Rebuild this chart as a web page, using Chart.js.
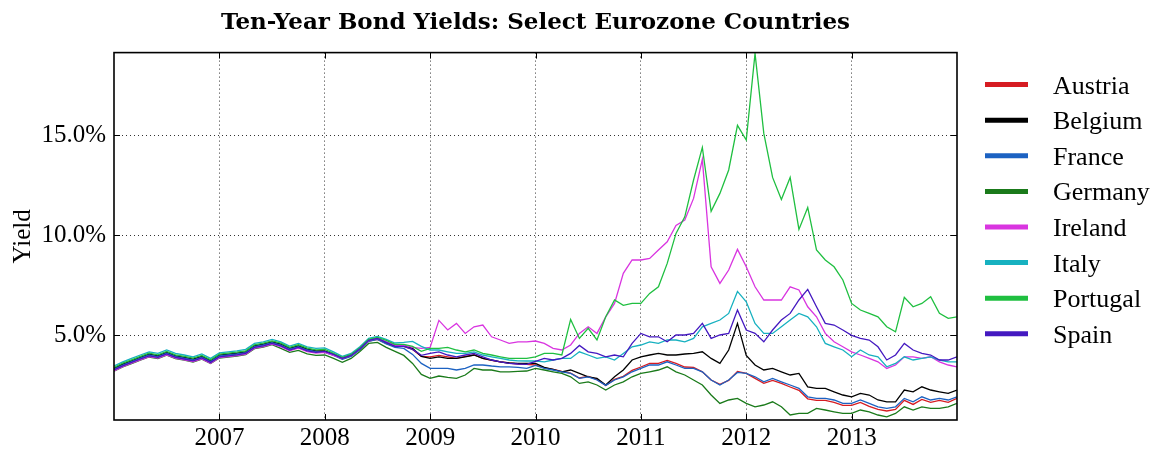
<!DOCTYPE html>
<html>
<head>
<meta charset="utf-8">
<script src="https://cdn.jsdelivr.net/npm/chart.js@4.4.1/dist/chart.umd.min.js"></script>
<style>
  html, body { margin: 0; padding: 0; background: #fff; }
</style>
</head>
<body>
<canvas id="yields" width="1155" height="449"></canvas>
<script>
// Monthly readings, Jan 2006 .. Jan 2014 (one row per year)
const countries = ['Austria', 'Belgium', 'France', 'Germany', 'Ireland', 'Italy', 'Portugal', 'Spain'];
const colors = ['#d61c22', '#000000', '#1c62c2', '#1a7a1a', '#d935e0', '#17b1c0', '#1fbf40', '#4419c0'];

const austria = [
  3.33,3.54,3.71,3.88,4.04,3.96,4.13,3.96,3.88,3.79,3.93,3.71,
  3.99,4.04,4.09,4.16,4.46,4.54,4.66,4.54,4.33,4.46,4.29,4.21,
  4.20,4.03,3.83,3.98,4.30,4.72,4.80,4.60,4.45,4.45,4.30,3.95,
  3.93,4.00,3.93,3.85,3.95,4.02,3.85,3.75,3.68,3.62,3.57,3.55,
  3.52,3.38,3.30,3.20,3.12,2.87,2.95,2.80,2.50,2.80,2.95,3.25,
  3.42,3.60,3.60,3.75,3.60,3.42,3.40,3.18,2.77,2.55,2.75,3.20,
  3.10,2.85,2.60,2.75,2.60,2.42,2.25,1.83,1.75,1.75,1.65,1.50,
  1.50,1.65,1.45,1.30,1.22,1.30,1.75,1.55,1.80,1.65,1.75,1.65,
  1.85];
const belgium = [
  3.35,3.56,3.73,3.90,4.06,3.98,4.15,3.98,3.90,3.81,3.95,3.73,
  4.01,4.06,4.11,4.18,4.48,4.56,4.68,4.56,4.35,4.48,4.31,4.23,
  4.22,4.05,3.85,4.00,4.33,4.75,4.85,4.65,4.50,4.50,4.35,3.95,
  3.85,3.93,3.85,3.85,3.93,4.02,3.85,3.77,3.68,3.62,3.60,3.60,
  3.60,3.40,3.30,3.18,3.27,3.10,2.93,2.85,2.52,2.93,3.27,3.77,
  3.93,4.02,4.10,4.02,4.02,4.07,4.10,4.18,3.85,3.60,4.27,5.60,
  4.00,3.52,3.27,3.35,3.18,3.02,3.10,2.43,2.35,2.35,2.18,2.02,
  1.93,2.10,2.02,1.77,1.68,1.68,2.27,2.18,2.43,2.27,2.18,2.10,
  2.27];
const france = [
  3.31,3.52,3.69,3.86,4.02,3.94,4.11,3.94,3.86,3.77,3.91,3.69,
  3.97,4.02,4.07,4.14,4.44,4.52,4.64,4.52,4.31,4.44,4.27,4.19,
  4.15,4.00,3.80,3.95,4.28,4.70,4.80,4.58,4.40,4.35,4.05,3.60,
  3.35,3.35,3.35,3.27,3.35,3.52,3.52,3.47,3.43,3.43,3.40,3.35,
  3.50,3.35,3.27,3.18,3.10,2.85,2.93,2.77,2.50,2.77,2.93,3.18,
  3.35,3.52,3.52,3.68,3.52,3.35,3.35,3.18,2.77,2.52,2.77,3.15,
  3.10,2.93,2.68,2.85,2.68,2.52,2.35,1.93,1.85,1.85,1.77,1.60,
  1.60,1.77,1.60,1.43,1.35,1.43,1.85,1.68,1.93,1.77,1.85,1.77,
  1.93];
const germany = [
  3.21,3.42,3.59,3.76,3.92,3.84,4.01,3.84,3.76,3.67,3.81,3.59,
  3.87,3.92,3.97,4.04,4.34,4.42,4.54,4.35,4.15,4.25,4.08,4.00,
  4.02,3.85,3.65,3.85,4.20,4.60,4.65,4.40,4.20,4.00,3.60,3.05,
  2.85,2.97,2.90,2.85,3.02,3.35,3.27,3.27,3.18,3.18,3.20,3.22,
  3.35,3.27,3.18,3.10,2.93,2.60,2.68,2.52,2.27,2.52,2.68,2.93,
  3.10,3.18,3.27,3.43,3.18,3.02,2.77,2.52,2.02,1.60,1.77,1.85,
  1.60,1.43,1.52,1.68,1.43,1.02,1.10,1.10,1.35,1.27,1.18,1.10,
  1.10,1.27,1.18,1.02,0.93,1.10,1.43,1.27,1.43,1.35,1.35,1.43,
  1.60];
const ireland = [
  3.23,3.44,3.61,3.78,3.94,3.86,4.03,3.86,3.78,3.69,3.83,3.61,
  3.89,3.94,3.99,4.06,4.36,4.44,4.56,4.44,4.23,4.36,4.19,4.11,
  4.15,4.00,3.85,4.00,4.35,4.75,4.85,4.68,4.50,4.50,4.40,4.35,
  4.40,5.75,5.27,5.60,5.10,5.43,5.52,4.93,4.77,4.60,4.68,4.68,
  4.72,4.60,4.35,4.27,4.52,5.10,5.43,5.10,5.93,6.60,8.10,8.77,
  8.77,8.85,9.27,9.68,10.50,10.77,11.85,13.80,8.43,7.60,8.27,9.30,
  8.43,7.43,6.77,6.77,6.77,7.43,7.27,6.43,5.93,5.10,4.68,4.43,
  4.18,4.02,3.85,3.68,3.35,3.52,3.93,3.93,3.85,3.93,3.68,3.52,
  3.43];
const italy = [
  3.47,3.68,3.85,4.02,4.18,4.10,4.27,4.10,4.02,3.93,4.07,3.85,
  4.13,4.18,4.23,4.30,4.60,4.68,4.80,4.68,4.47,4.60,4.43,4.35,
  4.38,4.18,3.95,4.10,4.43,4.85,4.95,4.80,4.62,4.65,4.70,4.45,
  4.27,4.27,4.18,4.10,4.10,4.18,4.02,3.93,3.85,3.77,3.73,3.72,
  3.72,3.68,3.77,3.85,3.85,4.18,4.02,3.85,3.93,3.77,4.10,4.43,
  4.52,4.68,4.60,4.77,4.77,4.68,4.85,5.43,5.60,5.77,6.10,7.20,
  6.68,5.60,5.10,5.10,5.43,5.77,6.10,5.93,5.43,4.60,4.43,4.27,
  3.93,4.27,4.02,3.93,3.43,3.60,3.93,3.77,3.85,3.93,3.77,3.68,
  3.68];
const portugal = [
  3.40,3.61,3.78,3.95,4.11,4.03,4.20,4.03,3.95,3.86,4.00,3.78,
  4.06,4.11,4.16,4.23,4.53,4.61,4.73,4.61,4.40,4.53,4.36,4.28,
  4.30,4.10,3.90,4.05,4.38,4.80,4.90,4.75,4.55,4.55,4.45,4.20,
  4.35,4.35,4.40,4.27,4.18,4.27,4.10,4.02,3.93,3.85,3.85,3.85,
  3.93,4.10,4.10,4.02,5.80,4.85,5.35,4.77,5.93,6.77,6.50,6.60,
  6.60,7.10,7.43,8.60,10.10,10.93,12.77,14.40,11.20,12.10,13.27,15.50,
  14.77,19.10,15.10,12.90,11.80,12.90,10.30,11.40,9.27,8.77,8.43,7.77,
  6.60,6.27,6.10,5.93,5.43,5.18,6.90,6.43,6.60,6.93,6.10,5.85,
  5.93];
const spain = [
  3.27,3.48,3.65,3.82,3.98,3.90,4.07,3.90,3.82,3.73,3.87,3.65,
  3.93,3.98,4.03,4.10,4.40,4.48,4.60,4.48,4.27,4.40,4.23,4.15,
  4.20,4.05,3.85,4.00,4.33,4.75,4.85,4.65,4.45,4.45,4.30,4.00,
  4.10,4.18,4.02,3.93,4.02,4.10,3.93,3.77,3.68,3.60,3.57,3.55,
  3.70,3.85,3.77,3.85,4.10,4.50,4.18,4.10,3.93,4.02,3.93,4.60,
  5.10,4.93,4.93,4.68,5.02,5.02,5.10,5.60,4.85,5.02,5.10,6.27,
  5.27,5.10,4.68,5.27,5.77,6.10,6.77,7.30,6.43,5.60,5.52,5.27,
  5.00,4.85,4.77,4.43,3.77,4.02,4.60,4.27,4.10,4.02,3.77,3.77,
  3.93];

const series = [austria, belgium, france, germany, ireland, italy, portugal, spain];
const xTicks = [2007, 2008, 2009, 2010, 2011, 2012, 2013];
const yTicks = [5, 10, 15];

// x position of each monthly reading, as a decimal year
const months = [];
for (let yr = 2006; yr < 2014; yr++) {
  for (let m = 0; m < 12; m++) months.push(yr + m / 12);
}
months.push(2014);

const serif = 'Liberation Serif';

// box around the plot plus inward tick marks on all four sides
const framePlugin = {
  id: 'frame',
  afterDatasetsDraw(chart) {
    const {ctx, chartArea: a, scales: {x, y}} = chart;
    ctx.save();
    ctx.strokeStyle = '#000';
    ctx.lineWidth = 1;
    ctx.beginPath();
    xTicks.forEach(v => {
      const px = Math.round(x.getPixelForValue(v)) + 0.5;
      ctx.moveTo(px, a.bottom); ctx.lineTo(px, a.bottom - 6);
      ctx.moveTo(px, a.top); ctx.lineTo(px, a.top + 6);
    });
    yTicks.forEach(v => {
      const py = Math.round(y.getPixelForValue(v)) + 0.5;
      ctx.moveTo(a.left, py); ctx.lineTo(a.left + 6, py);
      ctx.moveTo(a.right, py); ctx.lineTo(a.right - 6, py);
    });
    ctx.stroke();
    ctx.lineWidth = 1.6;
    ctx.strokeRect(a.left, a.top, a.right - a.left, a.bottom - a.top);
    ctx.restore();
  }
};

// legend drawn to the right of the plot
const legendPlugin = {
  id: 'sideLegend',
  afterDraw(chart) {
    const {ctx, chartArea: a} = chart;
    ctx.save();
    ctx.font = '26px "' + serif + '"';
    ctx.textBaseline = 'alphabetic';
    ctx.fillStyle = '#000';
    countries.forEach((name, i) => {
      const ly = a.top + 32 + i * 35.6;
      ctx.strokeStyle = colors[i];
      ctx.lineWidth = 5;
      ctx.beginPath();
      ctx.moveTo(a.right + 28, ly);
      ctx.lineTo(a.right + 71, ly);
      ctx.stroke();
      ctx.fillText(name, a.right + 96, ly + 9);
    });
    ctx.restore();
  }
};

new Chart(document.getElementById('yields'), {
  type: 'line',
  data: {
    datasets: countries.map((name, i) => ({
      label: name,
      data: series[i].map((v, j) => ({x: months[j], y: v})),
      borderColor: colors[i],
      backgroundColor: colors[i],
      borderWidth: 1.3,
      pointRadius: 0,
      tension: 0,
      fill: false,
      order: countries.length - i
    }))
  },
  options: {
    responsive: false,
    animation: false,
    events: [],
    layout: {padding: {left: 0, right: 198, top: 0, bottom: 0}},
    plugins: {
      legend: {display: false},
      tooltip: {enabled: false},
      title: {
        display: true,
        fullSize: false,
        text: 'Ten-Year Bond Yields: Select Eurozone Countries',
        color: '#000',
        font: {family: 'DejaVu Serif', weight: 'bold', size: 23},
        padding: {top: 9, bottom: 16}
      }
    },
    scales: {
      x: {
        type: 'linear',
        min: 2006,
        max: 2014,
        afterBuildTicks: s => { s.ticks = xTicks.map(v => ({value: v})); },
        afterFit: s => { s.height = 29; },
        ticks: {
          color: '#000',
          font: {family: serif, size: 25},
          padding: 3,
          maxRotation: 0,
          autoSkip: false,
          callback: v => String(v)
        },
        grid: {color: '#333', lineWidth: 1, drawTicks: false},
        border: {display: false, dash: [1, 3]}
      },
      y: {
        type: 'linear',
        min: 0.77,
        max: 19.14,
        afterBuildTicks: s => { s.ticks = yTicks.map(v => ({value: v})); },
        afterFit: s => { s.width = 114; },
        ticks: {
          color: '#000',
          font: {family: serif, size: 25},
          padding: 8,
          callback: v => v.toFixed(1) + '%'
        },
        grid: {color: '#333', lineWidth: 1, drawTicks: false},
        border: {display: false, dash: [1, 3]},
        title: {
          display: true,
          text: 'Yield',
          color: '#000',
          font: {family: serif, size: 25},
          padding: {top: 8, bottom: 0}
        }
      }
    }
  },
  plugins: [framePlugin, legendPlugin]
});
</script>
</body>
</html>
